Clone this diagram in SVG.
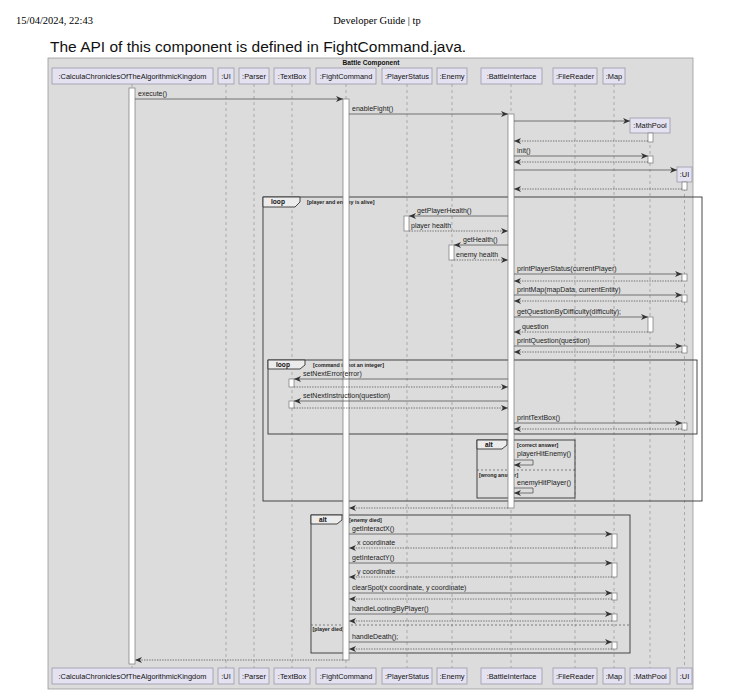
<svg xmlns="http://www.w3.org/2000/svg" width="750" height="690" viewBox="0 0 750 690">
<style>
.hdr{font-family:"Liberation Serif",serif;font-size:10.5px;fill:#000}
.h1{font-family:"Liberation Sans",Arial,sans-serif;font-size:15.5px;fill:#111}
.pbox{fill:#e4e2f0;stroke:#9a9aa8;stroke-width:0.8}
.pt{font-family:"Liberation Sans",Arial,sans-serif;font-size:7.4px;fill:#111;text-anchor:middle}
.life{stroke:#8a8a8a;stroke-width:0.6;stroke-dasharray:3,3}
.act{fill:#fff;stroke:#777;stroke-width:0.7}
.msg{stroke:#555;stroke-width:0.8;fill:none;marker-end:url(#ah)}
.ret{stroke:#555;stroke-width:0.8;fill:none;stroke-dasharray:1.4,1.2;marker-end:url(#ah)}
.ml{font-family:"Liberation Sans",Arial,sans-serif;font-size:7px;fill:#222}
.frame{fill:none;stroke:#333;stroke-width:0.9}
.tab{fill:#ececec;stroke:#333;stroke-width:0.9}
.tt{font-family:"Liberation Sans",Arial,sans-serif;font-size:6.6px;font-weight:bold;fill:#111}
.ct{font-family:"Liberation Sans",Arial,sans-serif;font-size:5.3px;font-weight:bold;fill:#222}
.sep{stroke:#555;stroke-width:0.7;stroke-dasharray:2,2}
</style>
<defs>
<marker id="ah" markerUnits="userSpaceOnUse" markerWidth="8" markerHeight="6" refX="7" refY="3" orient="auto">
<path d="M0,0 L7,3 L0,6 L2,3 Z" fill="#333"/>
</marker>
</defs>
<rect width="750" height="690" fill="#fff"/>
<text class="hdr" x="16" y="24">15/04/2024, 22:43</text>
<text class="hdr" x="377" y="24" text-anchor="middle">Developer Guide | tp</text>
<text class="h1" x="50" y="52">The API of this component is defined in FightCommand.java.</text>
<g id="outer-frame">
<rect x="48" y="58" width="645" height="631" fill="#dcdcdc" stroke="#9a9a9a" stroke-width="0.8"/>
<text x="371" y="65" text-anchor="middle" style="font-family:'Liberation Sans',Arial,sans-serif;font-size:6.6px;font-weight:bold;fill:#111">Battle Component</text>
</g>
<g id="lifelines">
<line class="life" x1="132" y1="84" x2="132" y2="668"/>
<line class="life" x1="226" y1="84" x2="226" y2="668"/>
<line class="life" x1="254" y1="84" x2="254" y2="668"/>
<line class="life" x1="292" y1="84" x2="292" y2="668"/>
<line class="life" x1="346" y1="84" x2="346" y2="668"/>
<line class="life" x1="407" y1="84" x2="407" y2="668"/>
<line class="life" x1="452" y1="84" x2="452" y2="668"/>
<line class="life" x1="511" y1="84" x2="511" y2="668"/>
<line class="life" x1="575" y1="84" x2="575" y2="668"/>
<line class="life" x1="614" y1="84" x2="614" y2="668"/>
<line class="life" x1="650" y1="133" x2="650" y2="668"/>
<line class="life" x1="684.5" y1="182" x2="684.5" y2="668"/>
</g>
<g id="p-calc"><rect class="pbox" x="52" y="68" width="161" height="16"/><text class="pt" x="132.5" y="78.7">:CalculaChroniclesOfTheAlgorithmicKingdom</text>
<rect class="pbox" x="52" y="668" width="161" height="16"/><text class="pt" x="132.5" y="678.7">:CalculaChroniclesOfTheAlgorithmicKingdom</text></g>
<g id="p-ui"><rect class="pbox" x="218" y="68" width="16" height="16"/><text class="pt" x="226" y="78.7">:UI</text>
<rect class="pbox" x="218" y="668" width="16" height="16"/><text class="pt" x="226" y="678.7">:UI</text></g>
<g id="p-parser"><rect class="pbox" x="239" y="68" width="30" height="16"/><text class="pt" x="254" y="78.7">:Parser</text>
<rect class="pbox" x="239" y="668" width="30" height="16"/><text class="pt" x="254" y="678.7">:Parser</text></g>
<g id="p-textbox"><rect class="pbox" x="274" y="68" width="36" height="16"/><text class="pt" x="292" y="78.7">:TextBox</text>
<rect class="pbox" x="274" y="668" width="36" height="16"/><text class="pt" x="292" y="678.7">:TextBox</text></g>
<g id="p-fight"><rect class="pbox" x="316" y="68" width="60" height="16"/><text class="pt" x="346" y="78.7">:FightCommand</text>
<rect class="pbox" x="316" y="668" width="60" height="16"/><text class="pt" x="346" y="678.7">:FightCommand</text></g>
<g id="p-player"><rect class="pbox" x="382" y="68" width="50" height="16"/><text class="pt" x="407" y="78.7">:PlayerStatus</text>
<rect class="pbox" x="382" y="668" width="50" height="16"/><text class="pt" x="407" y="678.7">:PlayerStatus</text></g>
<g id="p-enemy"><rect class="pbox" x="437" y="68" width="30" height="16"/><text class="pt" x="452" y="78.7">:Enemy</text>
<rect class="pbox" x="437" y="668" width="30" height="16"/><text class="pt" x="452" y="678.7">:Enemy</text></g>
<g id="p-battle"><rect class="pbox" x="481" y="68" width="61" height="16"/><text class="pt" x="511.5" y="78.7">:BattleInterface</text>
<rect class="pbox" x="481" y="668" width="61" height="16"/><text class="pt" x="511.5" y="678.7">:BattleInterface</text></g>
<g id="p-filereader"><rect class="pbox" x="553" y="68" width="44" height="16"/><text class="pt" x="575" y="78.7">:FileReader</text>
<rect class="pbox" x="553" y="668" width="44" height="16"/><text class="pt" x="575" y="678.7">:FileReader</text></g>
<g id="p-map"><rect class="pbox" x="603" y="68" width="22" height="16"/><text class="pt" x="614" y="78.7">:Map</text>
<rect class="pbox" x="603" y="668" width="22" height="16"/><text class="pt" x="614" y="678.7">:Map</text></g>
<g id="p-mathpool"><rect class="pbox" x="630" y="118" width="40" height="15"/><text class="pt" x="650" y="128.2">:MathPool</text>
<rect class="pbox" x="630" y="668" width="40" height="16"/><text class="pt" x="650" y="678.7">:MathPool</text></g>
<g id="p-ui2"><rect class="pbox" x="677" y="167" width="15" height="15"/><text class="pt" x="684.5" y="177.2">:UI</text>
<rect class="pbox" x="677" y="668" width="15" height="16"/><text class="pt" x="684.5" y="678.7">:UI</text></g>
<g id="frames">
<rect class="frame" x="263" y="197" width="439" height="304"/>
<path class="tab" d="M263,197 H300 V202 L295,207 H263 Z"/>
<text class="tt" x="271" y="204.3">loop</text>
<text class="ct" x="307" y="203.5">[player and enemy is alive]</text>
<rect class="frame" x="268" y="360" width="429" height="74"/>
<path class="tab" d="M268,360 H305 V365 L300,369 H268 Z"/>
<text class="tt" x="276" y="367">loop</text>
<text class="ct" x="313" y="366.5">[command is not an integer]</text>
<rect class="frame" x="477" y="440" width="98" height="58"/>
<path class="tab" d="M477,440 H507 V445 L502,449 H477 Z"/>
<text class="tt" x="485" y="447">alt</text>
<text class="ct" x="517" y="446.5">[correct answer]</text>
<line class="sep" x1="477" y1="470" x2="575" y2="470"/>
<text class="ct" x="479" y="476.5">[wrong answer]</text>
<rect class="frame" x="311" y="515" width="319" height="138"/>
<path class="tab" d="M311,515 H342 V520 L337,524 H311 Z"/>
<text class="tt" x="319" y="522">alt</text>
<text class="ct" x="349" y="521.5">[enemy died]</text>
<line class="sep" x1="311" y1="625" x2="630" y2="625"/>
<text class="ct" x="312.5" y="630.5">[player died]</text>
</g>
<g id="activations">
<rect class="act" x="129" y="88" width="6" height="576"/>
<rect class="act" x="343" y="99" width="6" height="561"/>
<rect class="act" x="508" y="114" width="6" height="394"/>
<rect class="act" x="648" y="133" width="5" height="9"/>
<rect class="act" x="648" y="156" width="5" height="7"/>
<rect class="act" x="682" y="182" width="5" height="8"/>
<rect class="act" x="404" y="216" width="5" height="15"/>
<rect class="act" x="449" y="245" width="5" height="15"/>
<rect class="act" x="682" y="274" width="5" height="7"/>
<rect class="act" x="682" y="295" width="5" height="7"/>
<rect class="act" x="648" y="317" width="5" height="15"/>
<rect class="act" x="682" y="346" width="5" height="7"/>
<rect class="act" x="289" y="379" width="5" height="8"/>
<rect class="act" x="289" y="401" width="5" height="7"/>
<rect class="act" x="682" y="423" width="5" height="7"/>
<rect class="act" x="612" y="534" width="5" height="14"/>
<rect class="act" x="612" y="563" width="5" height="14"/>
<rect class="act" x="612" y="593" width="5" height="7"/>
<rect class="act" x="612" y="614" width="5" height="7"/>
<rect class="act" x="612" y="642" width="5" height="7"/>
</g>
<g id="connectors">
<line class="msg" x1="135" y1="99" x2="343" y2="99"/><text class="ml" x="138" y="96">execute()</text>
<line class="msg" x1="349" y1="114" x2="508" y2="114"/><text class="ml" x="352" y="111">enableFight()</text>
<line class="msg" x1="514" y1="121" x2="630" y2="121"/>
<line class="ret" x1="648" y1="141" x2="514" y2="141"/>
<line class="msg" x1="514" y1="156" x2="648" y2="156"/><text class="ml" x="517" y="153">init()</text>
<line class="ret" x1="648" y1="162" x2="514" y2="162"/>
<line class="msg" x1="514" y1="170" x2="677" y2="170"/>
<line class="ret" x1="682" y1="189" x2="514" y2="189"/>
<line class="msg" x1="508" y1="216" x2="409" y2="216"/><text class="ml" x="417" y="213">getPlayerHealth()</text>
<line class="ret" x1="409" y1="231" x2="508" y2="231"/><text class="ml" x="411" y="228">player health</text>
<line class="msg" x1="508" y1="245" x2="454" y2="245"/><text class="ml" x="463" y="242">getHealth()</text>
<line class="ret" x1="454" y1="260" x2="508" y2="260"/><text class="ml" x="456" y="257">enemy health</text>
<line class="msg" x1="514" y1="274" x2="682" y2="274"/><text class="ml" x="517" y="271">printPlayerStatus(currentPlayer)</text>
<line class="ret" x1="682" y1="281" x2="514" y2="281"/>
<line class="msg" x1="514" y1="295" x2="682" y2="295"/><text class="ml" x="517" y="292">printMap(mapData, currentEntity)</text>
<line class="ret" x1="682" y1="301" x2="514" y2="301"/>
<line class="msg" x1="514" y1="317" x2="648" y2="317"/><text class="ml" x="517" y="314">getQuestionByDifficulty(difficulty);</text>
<line class="ret" x1="648" y1="332" x2="514" y2="332"/><text class="ml" x="522" y="329">question</text>
<line class="msg" x1="514" y1="346" x2="682" y2="346"/><text class="ml" x="517" y="343">printQuestion(question)</text>
<line class="ret" x1="682" y1="352" x2="514" y2="352"/>
<line class="msg" x1="508" y1="379" x2="294" y2="379"/><text class="ml" x="303" y="376">setNextError(error)</text>
<line class="ret" x1="294" y1="387" x2="508" y2="387"/>
<line class="msg" x1="508" y1="401" x2="294" y2="401"/><text class="ml" x="303" y="398">setNextInstruction(question)</text>
<line class="ret" x1="294" y1="408" x2="508" y2="408"/>
<line class="msg" x1="514" y1="423" x2="682" y2="423"/><text class="ml" x="517" y="420">printTextBox()</text>
<line class="ret" x1="682" y1="429" x2="514" y2="429"/>
<polyline class="msg" points="514,460 533,460 533,465 514,465"/><text class="ml" x="517" y="456">playerHitEnemy()</text>
<polyline class="msg" points="514,488 533,488 533,493 514,493"/><text class="ml" x="517" y="485">enemyHitPlayer()</text>
<line class="ret" x1="508" y1="508" x2="349" y2="508"/>
<line class="msg" x1="349" y1="534" x2="612" y2="534"/><text class="ml" x="352" y="531">getInteractX()</text>
<line class="ret" x1="612" y1="548" x2="349" y2="548"/><text class="ml" x="357" y="545">x coordinate</text>
<line class="msg" x1="349" y1="563" x2="612" y2="563"/><text class="ml" x="352" y="560">getInteractY()</text>
<line class="ret" x1="612" y1="577" x2="349" y2="577"/><text class="ml" x="357" y="574">y coordinate</text>
<line class="msg" x1="349" y1="593" x2="612" y2="593"/><text class="ml" x="352" y="590">clearSpot(x coordinate, y coordinate)</text>
<line class="ret" x1="612" y1="599" x2="349" y2="599"/>
<line class="msg" x1="349" y1="614" x2="612" y2="614"/><text class="ml" x="352" y="611">handleLootingByPlayer()</text>
<line class="ret" x1="612" y1="621" x2="349" y2="621"/>
<line class="msg" x1="349" y1="642" x2="612" y2="642"/><text class="ml" x="352" y="639">handleDeath();</text>
<line class="ret" x1="612" y1="649" x2="349" y2="649"/>
<line class="ret" x1="343" y1="660" x2="135" y2="660"/>
</g>
</svg>
